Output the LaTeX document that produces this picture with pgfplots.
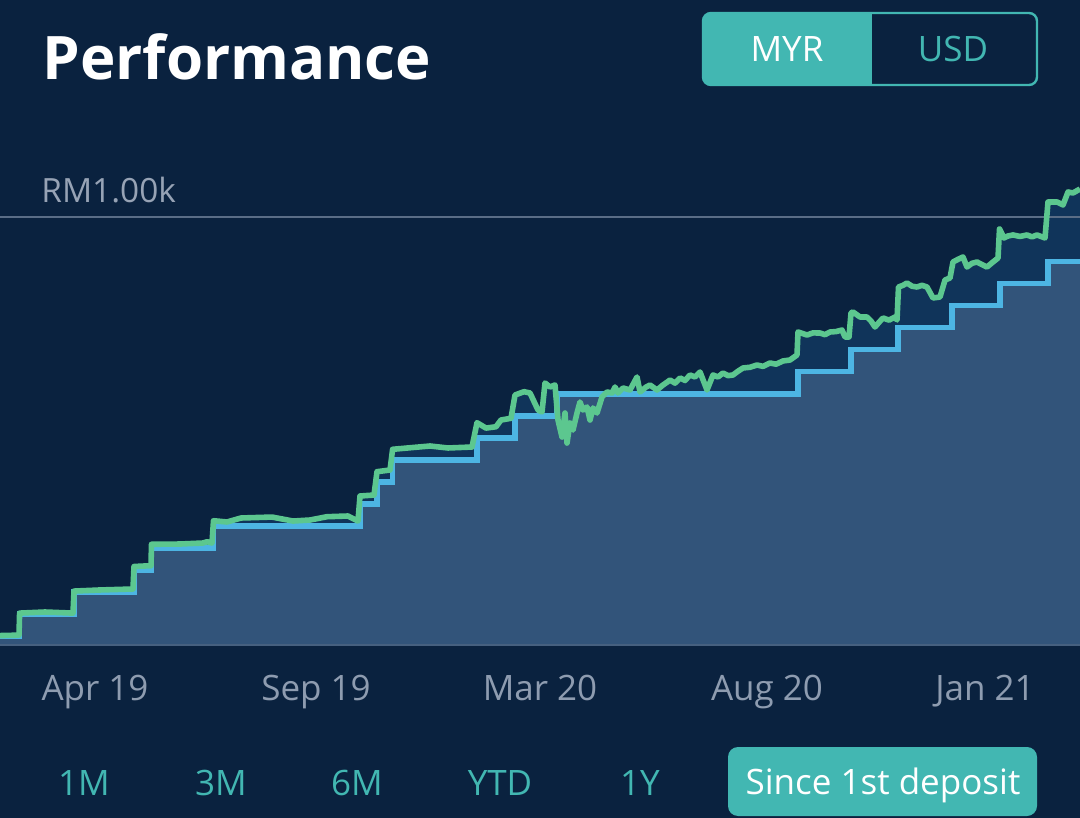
\documentclass[border=0pt]{standalone}
\usepackage{fontspec}
\setmainfont{Open Sans}
\usepackage{pgfplots}
\pgfplotsset{compat=1.18}
\definecolor{bg}{HTML}{0A223F}
\definecolor{underfill}{HTML}{32547A}
\definecolor{gainfill}{HTML}{10345A}
\definecolor{bluel}{HTML}{4DB5E3}
\definecolor{greenl}{HTML}{5CC78F}
\definecolor{tealc}{HTML}{42B7B2}
\definecolor{tickgray}{HTML}{8E9CB0}
\definecolor{rmgray}{HTML}{97A3B5}
\definecolor{refgray}{HTML}{5A6D86}
\definecolor{basecol}{HTML}{46607F}
\pgfplotstableread{
x y
0 51
19 52
19.6 102
45 104.5
73 102
74 152
100 154.5
133 156.7
134 207.8
151 209.6
151.5 258.2
180 258.8
203 261.1
207 264
212 261
213.5 311.7
227 308.8
241 317.9
272 320
293 311
310 313.3
327 320.8
348 322.4
358 311
360 367.8
374 370
377 423
390 426.8
392.6 473.8
430 481.3
448 476.8
472 479
477 534.2
486 522
496 525
501 540.3
511 544.2
515 597
524 604.6
530 601.6
538 563
542 558.5
545 624.3
550 615.2
555 619.8
558 540.3
562 501.7
565 556.2
567 488
570 533.5
573 517.6
577 556.2
580 581.2
583 563
587 569.8
590 540.3
593 567.6
597 556.2
602 592.5
607 603.9
612 601.6
615 615.2
618 601.6
623 613
630 608.4
637 637.9
640 603.9
646 615
650 619.8
657 608.4
663 619.8
667 626
670 631.1
675 624
680 635.7
685 630
690 642.5
695 638
700 649.3
707 608.4
713 642.5
718 638
723 647
728 641
733 642.5
738 651
743 658.4
750 660
757 665.2
763 662
770 669.7
776 667
783 674.3
790 676.5
797 687.9
798 740.1
807 733.3
813 738
820 737.8
825 734
830 740.1
836 741
842 744.6
845 728.7
849 728.7
851 783.2
853 785.5
860 774.1
867 774.1
871 765
875 751.4
879 762
883 771.9
889 767
895 774.1
897 767.3
898.5 842.2
903 846
907 851.3
912 844
917 842.2
922 846
927 842.2
933 817.3
940 819.5
945 858.1
950 862.7
953 899
958 905
963 910.3
967 887.6
972 896
977 899
982 893
987 887.6
993 899
998 908
999.5 973.9
1004 953.5
1008 958
1013 960.3
1020 957
1027 960.3
1032 956
1037 960.3
1045 953.5
1048 1035.2
1057 1035.2
1063 1028.4
1068 1057.9
1073 1055.6
1080 1064.7
}\marketvalue
\pgfplotstableread{
x y
0 50
19.6 100
74 150
134 200
151.5 250
213.5 300
360 350
377 400
392.6 450
477 500
515 550
557 600
798 650
851 700
898 750
952 800
1000 850
1048 900
1080 900
}\deposits
\begin{document}
\begin{tikzpicture}
\path[use as bounding box, fill=bg] (0pt,-86.5pt) rectangle (540pt,322.5pt);
\begin{axis}[
  at={(0pt,0pt)}, anchor=south west,
  scale only axis, width=540pt, height=257.5pt,
  xmin=0, xmax=1080, ymin=29.6, ymax=1198.6,
  axis line style={draw=none},
  tick style={draw=none},
  major tick length=0pt,
  ytick=\empty,
  xtick={95,316,540,767,985},
  xticklabels={Apr 19,Sep 19,Mar 20,Aug 20,Jan 21},
  xticklabel style={anchor=base, yshift=-27.5pt, inner sep=0pt,
    font=\fontsize{17.5}{20}\selectfont, text=tickgray},
  clip=false,
]
% market value (green) area
\addplot[draw=none, fill=gainfill] table[x=x,y=y] {\marketvalue} \closedcycle;
% net deposits (blue) area
\addplot[draw=none, fill=underfill, const plot] table[x=x,y=y] {\deposits} \closedcycle;
% reference line RM1.00k
\addplot[refgray, line width=1pt] coordinates {(0,1000) (1080,1000)};
% baseline
\addplot[basecol, line width=1pt] coordinates {(0,29.6) (1080,29.6)};
% net deposits line
\addplot[bluel, line width=2.8pt, const plot, line join=miter] table[x=x,y=y] {\deposits};
% market value line
\addplot[greenl, line width=2.8pt, line join=round] table[x=x,y=y] {\marketvalue};
\end{axis}
\begin{scope}[x=0.5pt, y=-0.5pt, shift={(0pt,322.5pt)}]
  % title
  \node[anchor=base west, inner sep=0pt, text=white,
        font=\fontsize{30}{36}\selectfont\bfseries] at (42,80) {Performance};
  % currency toggle
  \begin{scope}
    \clip[rounded corners=4pt] (703,13) rectangle (1037,85);
    \fill[tealc] (703,13) rectangle (872,85);
  \end{scope}
  \draw[tealc, line width=1.2pt, rounded corners=4pt] (703,13) rectangle (1037,85);
  \node[anchor=base, inner sep=0pt, text=white, font=\fontsize{17.5}{20}\selectfont] at (787,62) {MYR};
  \node[anchor=base, inner sep=0pt, text=tealc, font=\fontsize{17.5}{20}\selectfont] at (953,62) {USD};
  % y reference label
  \node[anchor=base west, inner sep=0pt, text=rmgray, font=\fontsize{16.7}{20}\selectfont] at (41,203) {RM1.00k};
  % period selector
  \foreach \xx/\lab in {84/1M, 221/3M, 357/6M, 500/YTD, 640/1Y}
    \node[anchor=base, inner sep=0pt, text=tealc, font=\fontsize{17.5}{20}\selectfont] at (\xx,795) {\lab};
  \fill[tealc, rounded corners=5pt] (728,747) rectangle (1037,816);
  \node[anchor=base, inner sep=0pt, text=white, font=\fontsize{17.5}{20}\selectfont] at (883,794) {Since 1st deposit};
\end{scope}
\end{tikzpicture}
\end{document}
